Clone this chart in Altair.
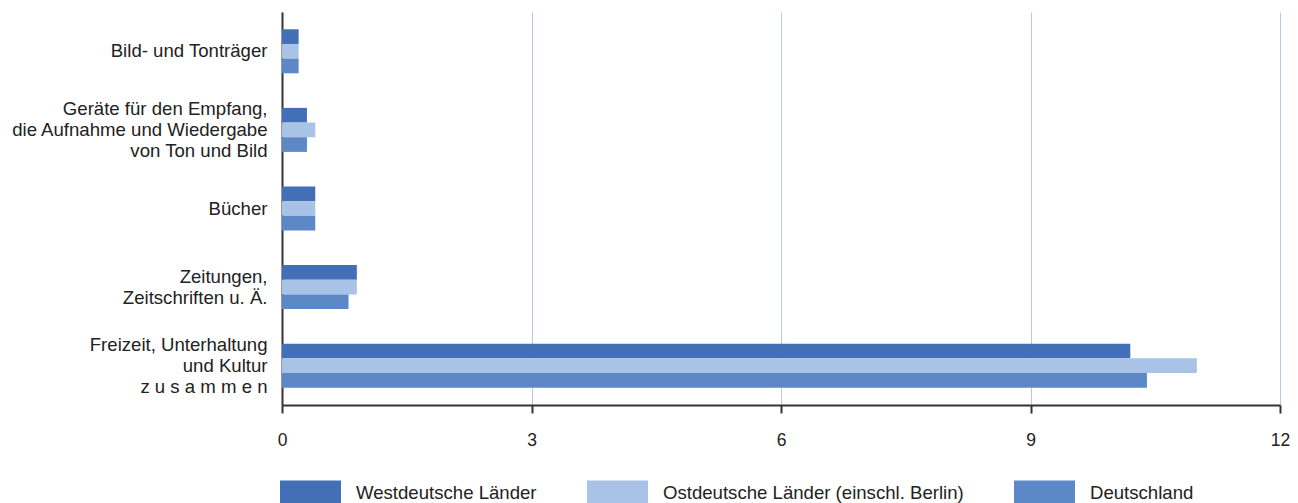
import altair as alt
import pandas as pd

categories = [
    "Bild- und Tonträger",
    "Geräte für den Empfang,|die Aufnahme und Wiedergabe|von Ton und Bild",
    "Bücher",
    "Zeitungen,|Zeitschriften u. Ä.",
    "Freizeit, Unterhaltung|und Kultur|z u s a m m e n",
]
series = ["Westdeutsche Länder", "Ostdeutsche Länder (einschl. Berlin)", "Deutschland"]
west = [0.2, 0.3, 0.4, 0.9, 10.2]
ost = [0.2, 0.4, 0.4, 0.9, 11.0]
deutschland = [0.2, 0.3, 0.4, 0.8, 10.4]
colors = ["#436fb6", "#a8c3e5", "#5c88c8"]
x_ticks = [0, 3, 6, 9, 12]

rows = []
for vals, s in zip([west, ost, deutschland], series):
    for c, v in zip(categories, vals):
        rows.append({"Kategorie": c, "Gebiet": s, "Wert": v})
df = pd.DataFrame(rows)

font = "Liberation Sans"
fs = 18.6
lh = 21

chart = alt.Chart(df).mark_bar().encode(
    x=alt.X(
        "Wert:Q",
        scale=alt.Scale(domain=[0, 12], nice=False),
        axis=alt.Axis(
            values=x_ticks,
            title=None,
            grid=True,
            gridColor="#b3cae8",
            gridWidth=1,
            domainColor="#333333",
            domainWidth=2,
            tickColor="#333333",
            tickWidth=2,
            tickSize=8,
            labelFlush=False,
            labelFont=font,
            labelFontSize=17.5,
            labelColor="#222222",
            labelPadding=18,
        ),
    ),
    y=alt.Y(
        "Kategorie:N",
        sort=categories,
        scale=alt.Scale(paddingInner=0.44, paddingOuter=0.22),
        axis=alt.Axis(
            title=None,
            ticks=False,
            grid=False,
            domainColor="#333333",
            domainWidth=2,
            labelFont=font,
            labelFontSize=fs,
            labelColor="#222222",
            labelPadding=15,
            labelLineHeight=lh,
            labelLimit=400,
            labelBaseline="middle",
            labelExpr="split(datum.label, '|')",
            labelOffset={
                "condition": [
                    {"test": "length(split(datum.value, '|')) == 3", "value": -lh},
                    {"test": "length(split(datum.value, '|')) == 2", "value": -lh / 2},
                ],
                "value": 0,
            },
        ),
    ),
    yOffset=alt.YOffset("Gebiet:N", sort=series, scale=alt.Scale(paddingInner=0, paddingOuter=0)),
    color=alt.Color(
        "Gebiet:N",
        sort=series,
        scale=alt.Scale(domain=series, range=colors),
        legend=alt.Legend(
            title=None,
            orient="none",
            direction="horizontal",
            legendX=-2,
            legendY=450,
            symbolType="M-1,-0.4H1V0.4H-1Z",
            symbolSize=3721,
            symbolStrokeWidth=0,
            symbolOpacity=1,
            labelFont=font,
            labelFontSize=fs,
            labelColor="#222222",
            labelOffset=15,
            columnPadding=50,
            padding=0,
            labelLimit=500,
        ),
    ),
).properties(
    width=998,
    height=393,
    padding={"left": 2, "top": 4, "right": 0, "bottom": 0},
).configure_view(stroke=None)

chart.save("out.html", embed_options={"renderer": "svg", "actions": False})
